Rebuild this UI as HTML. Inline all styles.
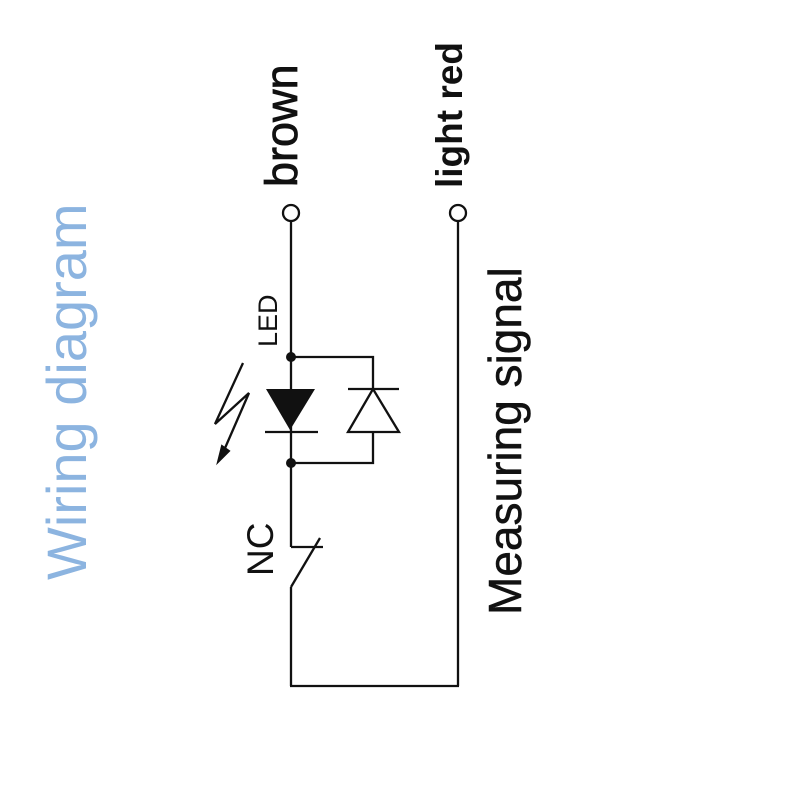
<!DOCTYPE html>
<html><head><meta charset="utf-8"><style>
html,body{margin:0;padding:0;background:#fff}
svg{display:block}
text{font-family:"Liberation Sans",sans-serif}
</style></head><body>
<svg width="800" height="800" viewBox="0 0 800 800" xmlns="http://www.w3.org/2000/svg">
<g stroke="#111" stroke-width="2.3" fill="none">
  <circle cx="291" cy="213" r="8"/>
  <circle cx="458" cy="213" r="8"/>
  <line x1="291" y1="221" x2="291" y2="547"/>
  <line x1="291" y1="547" x2="323" y2="547"/>
  <line x1="291" y1="587" x2="320" y2="538"/>
  <line x1="291" y1="587" x2="291" y2="686"/>
  <line x1="290" y1="686" x2="459" y2="686"/>
  <line x1="458" y1="221" x2="458" y2="686"/>
  <polyline points="291,357 373,357 373,389"/>
  <polyline points="291,463 373,463 373,432"/>
  <line x1="265" y1="432" x2="318" y2="432"/>
  <line x1="348" y1="389" x2="399" y2="389"/>
  <polygon points="348,432 399,432 373,389"/>
  <polyline points="243,363 215,424 249,393 222,455"/>
</g>
<polygon points="218,462 222,446 229,451" fill="#111" stroke="#111" stroke-width="2"/>
<polygon points="266,389 315,389 290,430" fill="#111"/>
<circle cx="291" cy="357" r="5" fill="#111"/>
<circle cx="291" cy="463" r="5" fill="#111"/>
<text transform="translate(297,187) rotate(-90)" font-size="45" fill="#111" stroke="#111" stroke-width="0.8">brown</text>
<text transform="translate(462,188) rotate(-90)" font-size="37" font-weight="bold" fill="#111">light red</text>
<text transform="translate(521,615) rotate(-90)" font-size="46" fill="#111" stroke="#111" stroke-width="0.5">Measuring signal</text>
<text transform="translate(86,580) rotate(-90)" font-size="56" fill="#8cb4e0">Wiring diagram</text>
<text transform="translate(277,347) rotate(-90)" font-size="27" fill="#111">LED</text>
<text transform="translate(273,576) rotate(-90)" font-size="37" fill="#111">NC</text>
</svg>
</body></html>
